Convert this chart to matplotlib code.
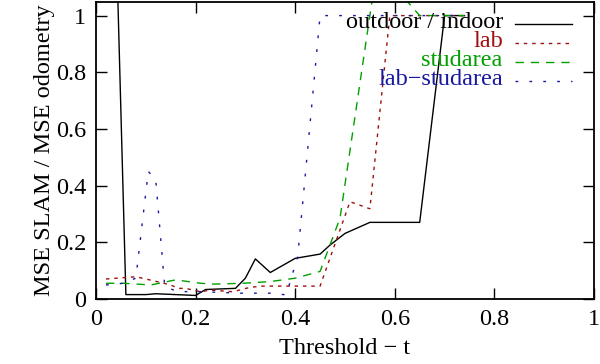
import matplotlib
matplotlib.use("Agg")
import matplotlib.pyplot as plt
from matplotlib.ticker import MultipleLocator, FormatStrFormatter

# values
x_outdoor = [0.02, 0.06, 0.10, 0.12, 0.20, 0.22, 0.28, 0.30, 0.32, 0.35, 0.40, 0.45, 0.47, 0.50, 0.55, 0.65, 0.70, 0.74]
y_outdoor = [2.6, 0.015, 0.015, 0.018, 0.012, 0.033, 0.037, 0.073, 0.141, 0.093, 0.143, 0.158, 0.19, 0.231, 0.27, 0.27, 1.0, 1.0]

x_lab = [0.02, 0.08, 0.115, 0.15, 0.165, 0.18, 0.21, 0.23, 0.275, 0.31, 0.335, 0.45, 0.51, 0.55, 0.59, 0.74]
y_lab = [0.07, 0.078, 0.064, 0.049, 0.037, 0.037, 0.025, 0.031, 0.025, 0.041, 0.045, 0.045, 0.343, 0.318, 1.0, 1.0]

x_stud = [0.02, 0.055, 0.11, 0.16, 0.21, 0.235, 0.295, 0.35, 0.40, 0.45, 0.49, 0.56, 0.60, 0.65, 0.74]
y_stud = [0.055, 0.055, 0.049, 0.067, 0.055, 0.052, 0.055, 0.061, 0.073, 0.097, 0.285, 1.12, 1.10, 1.0, 1.0]

x_labstud = [0.02, 0.055, 0.08, 0.105, 0.12, 0.138, 0.165, 0.20, 0.23, 0.29, 0.35, 0.382, 0.405, 0.45, 0.74]
y_labstud = [0.049, 0.055, 0.073, 0.45, 0.42, 0.043, 0.025, 0.026, 0.024, 0.02, 0.02, 0.014, 0.149, 1.0, 1.0]

labels = ["outdoor / indoor", "lab", "studarea", "lab\u2212studarea"]
colors = ["black", "#a01010", "#00a000", "#1818a0"]
styles = ["-", (0, (2.5, 3.5)), (0, (6.0, 5.0)), (0, (2.0, 8.0))]

plt.rcParams["font.family"] = ["Liberation Serif", "DejaVu Serif"]
plt.rcParams["font.size"] = 17.5

fig = plt.figure(figsize=(6.0, 3.64), dpi=100)
ax = fig.add_axes([0.16, 0.179, 0.83, 0.8155])

series = [(x_outdoor, y_outdoor), (x_lab, y_lab), (x_stud, y_stud), (x_labstud, y_labstud)]
for i, (xs, ys) in enumerate(series):
    ax.plot(xs, ys, color=colors[i], linestyle=styles[i], lw=1.0)

# gnuplot-style key: right aligned text, sample to the right
for i, lab in enumerate(labels):
    yk = 0.932 - i * 0.064
    ax.text(0.817, yk, lab, color=colors[i], ha="right", va="center",
            transform=ax.transAxes)
    ax.plot([0.841, 0.956], [yk - 0.006, yk - 0.006], color=colors[i],
            linestyle=styles[i], lw=1.0, transform=ax.transAxes)

ax.set_xlim(0, 1)
ax.set_ylim(0, 1.048)
ax.xaxis.set_major_locator(MultipleLocator(0.2))
ax.yaxis.set_major_locator(MultipleLocator(0.2))
ax.xaxis.set_major_formatter(FormatStrFormatter("%g"))
ax.yaxis.set_major_formatter(FormatStrFormatter("%g"))
ax.tick_params(direction="in", length=8, width=1.0, top=True, right=True, pad=7)
for s in ax.spines.values():
    s.set_linewidth(1.3)

ax.set_xlabel("Threshold \u2212 t", labelpad=6)
ax.set_ylabel("MSE SLAM / MSE odometry", labelpad=1)

fig.savefig("out.png", dpi=100)
